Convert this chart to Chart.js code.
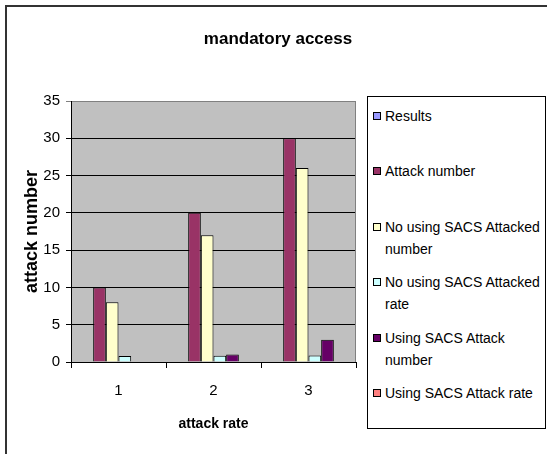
<!DOCTYPE html>
<html>
<head>
<meta charset="utf-8">
<script src="https://cdn.jsdelivr.net/npm/chart.js@4/dist/chart.umd.min.js"></script>
<style>
  html, body { margin: 0; padding: 0; background: #fff; }
  #wrap { position: relative; width: 547px; height: 454px; overflow: hidden; font-family: "Liberation Sans", Arial, sans-serif; }
  #frame { position: absolute; left: 5px; top: 5px; width: 560px; height: 470px; border-top: 2px solid #333; border-left: 2px solid #333; }
  #chart { position: absolute; left: 0; top: 0; }
  #title { position: absolute; left: 178px; width: 200px; top: 29px; text-align: center; font-weight: bold; font-size: 17px; color: #000; white-space: nowrap; }
  #legend { position: absolute; left: 367px; top: 96px; width: 177px; height: 331px; border: 1px solid #000; background: #fff; }
  .item { position: absolute; left: 0; width: 177px; }
  .sw { position: absolute; left: 5px; width: 6px; height: 6px; border: 1px solid #000; }
  .tx { position: absolute; left: 17px; width: 160px; font-size: 14px; line-height: 22px; color: #000; }
</style>
</head>
<body>
<div id="wrap">
  <div id="frame"></div>
  <canvas id="chart" width="547" height="454"></canvas>
  <div id="title">mandatory access</div>
  <div id="legend"></div>
</div>
<script>
// Categories (attack rate) and series values
const categories = ['1', '2', '3'];
const results = [0, 0, 0];
const attackNumber = [10, 20, 30];
const noSacsAttackedNumber = [8, 17, 26];
const noSacsAttackedRate = [0.8, 0.85, 0.87];
const sacsAttackNumber = [0, 1, 3];
const sacsAttackRate = [0, 0, 0];

const seriesLabels = [
  'Results',
  'Attack number',
  'No using SACS Attacked number',
  'No using SACS Attacked rate',
  'Using SACS Attack number',
  'Using SACS Attack rate'
];
const seriesColors = ['#9999FF', '#993366', '#FFFFCC', '#CCFFFF', '#660066', '#FF8080'];
const seriesData = [results, attackNumber, noSacsAttackedNumber, noSacsAttackedRate, sacsAttackNumber, sacsAttackRate];

const yTicks = [0, 5, 10, 15, 20, 25, 30, 35];

// Grey plot-area background and its grey right edge
const plotArea = {
  id: 'plotArea',
  beforeDraw(chart) {
    const { ctx, chartArea: a } = chart;
    ctx.save();
    ctx.fillStyle = '#C0C0C0';
    ctx.fillRect(a.left, a.top, a.right - a.left, a.bottom - a.top);
    ctx.restore();
  },
  afterDraw(chart) {
    const { ctx, chartArea: a } = chart;
    ctx.save();
    ctx.strokeStyle = '#808080';
    ctx.lineWidth = 1;
    ctx.beginPath();
    ctx.moveTo(a.right - 0.5, a.top);
    ctx.lineTo(a.right - 0.5, a.bottom);
    ctx.stroke();
    ctx.restore();
  }
};

const chart = new Chart(document.getElementById('chart'), {
  type: 'bar',
  data: {
    labels: categories,
    datasets: seriesLabels.map((label, i) => ({
      label,
      data: seriesData[i],
      backgroundColor: seriesColors[i],
      borderColor: '#000',
      borderWidth: 1,
      categoryPercentage: 0.8,
      barPercentage: 1.0
    }))
  },
  options: {
    responsive: false,
    animation: false,
    layout: { padding: { left: 0, top: 101, right: 191, bottom: 0 } },
    plugins: {
      legend: { display: false },
      tooltip: { enabled: false },
      title: { display: false }
    },
    scales: {
      x: {
        grid: { display: true, drawOnChartArea: false, drawTicks: true, tickLength: 6, color: '#000', offset: true },
        border: { display: true, color: '#000', width: 1 },
        ticks: { color: '#000', font: { family: 'Liberation Sans', size: 15 }, padding: 14 },
        title: { display: true, text: 'attack rate', color: '#000', font: { family: 'Liberation Sans', size: 14, weight: 'bold' }, padding: { top: 0, bottom: 21 } },
        afterFit(scale) { scale.height = 92; }
      },
      y: {
        min: 0,
        max: 35,
        afterBuildTicks(scale) { scale.ticks = yTicks.map(v => ({ value: v })); },
        grid: {
          color: c => (c.tick && c.tick.value === 35 ? '#808080' : '#000'),
          lineWidth: 1,
          tickLength: 5
        },
        border: { display: true, color: '#000', width: 1 },
        ticks: { color: '#000', font: { family: 'Liberation Sans', size: 15 }, padding: 6 },
        title: { display: true, text: 'attack number', color: '#000', font: { family: 'Liberation Sans', size: 18, weight: 'bold' }, padding: { top: 21, bottom: 0 } },
        afterFit(scale) { scale.width = 71; }
      }
    }
  },
  plugins: [plotArea]
});

// Boxed legend on the right, built from the chart's datasets
const legend = document.getElementById('legend');
chart.data.datasets.forEach((ds, i) => {
  const item = document.createElement('div');
  item.className = 'item';
  item.style.top = (8 + i * 55.4) + 'px';
  const sw = document.createElement('div');
  sw.className = 'sw';
  sw.style.top = '7px';
  sw.style.background = ds.backgroundColor;
  const tx = document.createElement('div');
  tx.className = 'tx';
  tx.style.top = '0px';
  tx.textContent = ds.label;
  item.appendChild(sw);
  item.appendChild(tx);
  legend.appendChild(item);
});
</script>
</body>
</html>
